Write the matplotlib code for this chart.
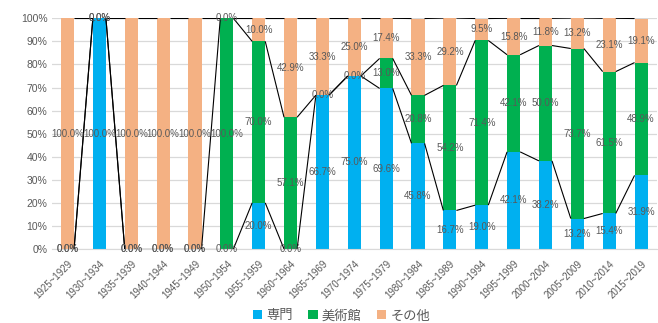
import matplotlib
matplotlib.use("Agg")
import matplotlib.pyplot as plt
from matplotlib.patches import Patch
import numpy as np

plt.rcParams['font.family'] = ['Liberation Sans', 'Noto Sans CJK JP', 'DejaVu Sans']

categories = ["1925~1929", "1930~1934", "1935~1939", "1940~1944", "1945~1949",
              "1950~1954", "1955~1959", "1960~1964", "1965~1969", "1970~1974",
              "1975~1979", "1980~1984", "1985~1989", "1990~1994", "1995~1999",
              "2000~2004", "2005~2009", "2010~2014", "2015~2019"]
senmon = [0.0, 100.0, 0.0, 0.0, 0.0, 0.0, 20.0, 0.0, 66.7, 75.0,
          69.6, 45.8, 16.7, 19.0, 42.1, 38.2, 13.2, 15.4, 31.9]
bijutsukan = [0.0, 0.0, 0.0, 0.0, 0.0, 100.0, 70.0, 57.1, 0.0, 0.0,
              13.0, 20.8, 54.2, 71.4, 42.1, 50.0, 73.7, 61.5, 48.9]
sonota = [100.0, 0.0, 100.0, 100.0, 100.0, 0.0, 10.0, 42.9, 33.3, 25.0,
          17.4, 33.3, 29.2, 9.5, 15.8, 11.8, 13.2, 23.1, 19.1]
series_names = ["専門", "美術館", "その他"]
colors = ["#00B0F0", "#00B050", "#F4B183"]
yticks = [0, 10, 20, 30, 40, 50, 60, 70, 80, 90, 100]

W, H = 658, 323
fig = plt.figure(figsize=(W / 100, H / 100), dpi=100)
ax = fig.add_axes([51.6 / W, 1 - 249 / H, (657 - 51.6) / W, (249 - 18.3) / H])

x = np.arange(len(categories))
width = 0.41
series = [senmon, bijutsukan, sonota]
bottom = np.zeros(len(categories))
tops = []
for vals, col, name in zip(series, colors, series_names):
    vals = np.array(vals, dtype=float)
    ax.bar(x, vals, width, bottom=bottom, color=col, label=name, zorder=2, linewidth=0)
    top = bottom + vals
    tops.append((bottom.copy(), vals, top.copy()))
    bottom = top

# series lines (connecting tops of segments)
for (b, v, t) in tops:
    for i in range(len(categories) - 1):
        ax.plot([x[i] + width / 2, x[i + 1] - width / 2], [t[i], t[i + 1]],
                color="black", lw=0.8, zorder=3, solid_capstyle="butt")

# data labels
for (b, v, t) in tops:
    for i in range(len(categories)):
        ax.text(x[i], b[i] + v[i] / 2, f"{v[i]:.1f}%", ha="center", va="center",
                fontsize=7, color="#595959", zorder=4)

ax.set_xlim(-0.5, len(categories) - 0.5)
ax.set_ylim(0, 100)
ax.set_yticks(yticks)
ax.set_yticklabels([f"{t}%" for t in yticks], fontsize=7.5, color="#595959")
ax.set_xticks(x)
ax.set_xticklabels(categories, rotation=45, ha="right", rotation_mode="anchor",
                   fontsize=7, color="#595959")
ax.tick_params(axis="both", length=0, pad=3)
ax.tick_params(axis="x", pad=7)
ax.yaxis.grid(True, color="#D9D9D9", lw=0.9, zorder=0)
ax.set_axisbelow(True)
for s in ["top", "right", "left"]:
    ax.spines[s].set_visible(False)
ax.spines["bottom"].set_color("#D9D9D9")

handles = [Patch(facecolor=c, edgecolor="none") for c in colors]
fig.legend(handles, series_names, loc="center", bbox_to_anchor=(0.519, 0.022),
           ncol=3, frameon=False, handlelength=0.7, handleheight=0.7,
           handletextpad=0.3, columnspacing=1.2, borderpad=0.0,
           prop={"family": ["Noto Sans CJK JP", "DejaVu Sans"], "size": 9.5},
           labelcolor="#595959")

fig.savefig("out.png", dpi=100, facecolor="white")
